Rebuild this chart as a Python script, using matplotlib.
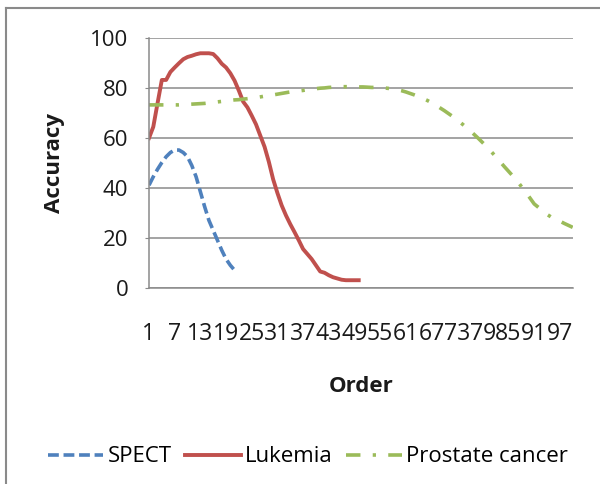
import matplotlib
matplotlib.use("Agg")
import matplotlib.pyplot as plt
from matplotlib.lines import Line2D

plt.rcParams['font.family'] = ['Open Sans', 'DejaVu Sans']

spect = [41.1, 44.5, 47.5, 50.2, 52.5, 54.2, 55.2, 55.2, 54.2, 52.5,
         49.0, 44.5, 38.5, 32.5, 27.0, 23.0, 19.0, 15.0, 11.5, 9.0, 7.0]

lukemia = [60.0, 64.5, 74.0, 83.3, 83.3, 86.5, 88.3, 90.0, 91.6, 92.5,
           93.0, 93.6, 94.0, 94.0, 94.0, 93.7, 92.0, 89.8, 88.3, 86.0,
           83.0, 79.0, 74.6, 72.3, 69.0, 65.5, 61.0, 56.5, 50.5, 43.5,
           38.0, 33.0, 29.0, 25.5, 22.3, 19.0, 15.5, 13.5, 11.5, 9.0,
           6.5, 6.0, 5.0, 4.2, 3.7, 3.2, 3.0, 3.0, 3.0, 3.0]

prostate = [73.3, 73.3, 73.3, 73.3, 73.3, 73.3, 73.3, 73.3, 73.4, 73.5,
            73.6, 73.7, 73.8, 73.9, 74.1, 74.3, 74.5, 74.7, 74.9, 75.1,
            75.3, 75.4, 75.6, 75.8, 76.0, 76.2, 76.5, 76.8, 77.0, 77.3,
            77.6, 77.9, 78.2, 78.5, 78.7, 78.9, 79.1, 79.4, 79.6, 79.8,
            80.0, 80.1, 80.3, 80.4, 80.5, 80.6, 80.6, 80.6, 80.6, 80.5,
            80.5, 80.4, 80.3, 80.3, 80.2, 80.1, 79.9, 79.7, 79.4, 79.0,
            78.5, 77.9, 77.3, 76.6, 75.9, 75.1, 74.2, 73.2, 72.1, 71.0,
            69.8, 68.6, 67.3, 65.9, 64.5, 63.0, 61.4, 59.8, 58.1, 56.4,
            54.5, 52.6, 50.6, 48.6, 46.7, 44.8, 42.8, 40.6, 38.3, 36.0,
            33.6, 32.2, 30.9, 29.4, 28.3, 27.5, 26.7, 25.8, 25.0, 24.2]

series_names = ["SPECT", "Lukemia", "Prostate cancer"]
x_tick_labels = [str(v) for v in range(1, 101, 6)]
y_ticks = [0, 20, 40, 60, 80, 100]

fig = plt.figure(figsize=(6.0, 4.84), dpi=100)
ax = fig.add_axes([149 / 600, 1 - 287.7 / 484, (572.7 - 149) / 600, (287.7 - 38.3) / 484])

grey = '#8a8a8a'
ax.plot(range(1, len(spect) + 1), spect, color='#4F81BD', lw=2.6,
        dashes=(3.0, 1.3), label=series_names[0])
ax.plot(range(1, len(lukemia) + 1), lukemia, color='#C0504D', lw=2.8,
        label=series_names[1], solid_joinstyle='round')
ax.plot(range(1, len(prostate) + 1), prostate, color='#9BBB59', lw=2.6,
        dashes=(4.0, 3.4, 0.9, 3.4), label=series_names[2])

ax.set_xlim(1, 100)
ax.set_ylim(0, 100)
ax.set_yticks(y_ticks)
ax.set_xticks(list(range(1, 101, 6)))
ax.set_xticklabels(x_tick_labels)
ax.yaxis.grid(True, color=grey, lw=1.1)
ax.set_axisbelow(True)
for s in ['top', 'right']:
    ax.spines[s].set_visible(False)
for s in ['left', 'bottom']:
    ax.spines[s].set_color(grey)
    ax.spines[s].set_linewidth(1.1)
ax.tick_params(axis='y', length=3, color=grey, pad=12, labelsize=16, labelcolor='#1a1a1a')
ax.tick_params(axis='x', length=0, pad=25, labelsize=16.6, labelcolor='#1a1a1a')

fig.text(55 / 600, 1 - 163 / 484, "Accuracy", rotation=90, ha='center', va='center',
         fontsize=16, fontweight='bold', color='#1a1a1a')
fig.text(361 / 600, 1 - 387 / 484, "Order", ha='center', va='center',
         fontsize=16, fontweight='bold', color='#1a1a1a')

leg = fig.legend(loc='center', bbox_to_anchor=(308 / 600, 1 - 457 / 484), ncol=3,
                 frameon=False, fontsize=16, handlelength=2.5, handletextpad=0.2,
                 columnspacing=0.6, borderaxespad=0)

fig.add_artist(Line2D([6 / 600, 6 / 600], [0, 1 - 8 / 484], transform=fig.transFigure,
                      color=grey, lw=1.5))
fig.add_artist(Line2D([6 / 600, 1], [1 - 8 / 484, 1 - 8 / 484], transform=fig.transFigure,
                      color=grey, lw=1.5))

fig.savefig("out.png", dpi=100)
